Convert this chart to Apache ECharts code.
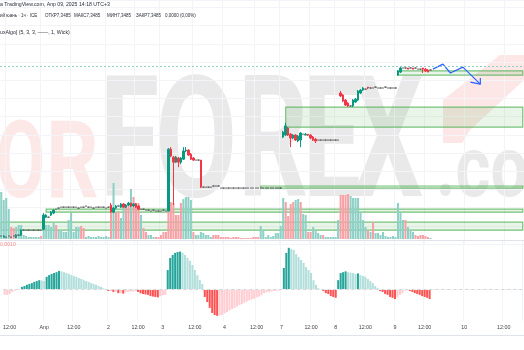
<!DOCTYPE html>
<html lang="ru">
<head>
<meta charset="UTF-8">
<title>USDCNY 1ч</title>
<script src="https://cdn.jsdelivr.net/npm/echarts@6/dist/echarts.min.js"></script>
<style>
html, body { margin: 0; padding: 0; background: #fff; }
#chart { width: 524px; height: 350px; }
</style>
</head>
<body>
<div id="chart"></div>
<script>
// hourly slots of the time scale, labels only on some of them
var slotCount = 210;
var tickSlots  = [2, 16, 28, 42, 54, 64, 77, 89, 102, 112, 124, 134, 146, 158, 170, 186, 202];
var tickLabels = ['12:00', 'Апр', '12:00', '2', '12:00', '3', '12:00', '4', '12:00', '7', '12:00', '8', '12:00', '9', '12:00', '10', '12:00'];

// one number = flat bar (O=H=L=C), otherwise [open, close, low, high]
var candles = [
    7.2755, [7.2750, 7.2755, 7.2750, 7.2759], 7.2750, 7.2755, 7.2750, 7.2755, [7.2750, 7.2759, 7.2746, 7.2763], 7.2759, [7.2759, 7.2781, 7.2755, 7.2785], 7.2781,
    7.2781, 7.2781, 7.2781, 7.2781, 7.2781, 7.2781, 7.2781, [7.2785, 7.2847, 7.2781, 7.2856], [7.2838, 7.2847, 7.2834, 7.2851], 7.2838,
    [7.2847, 7.2860, 7.2843, 7.2865], [7.2856, 7.2869, 7.2851, 7.2873], 7.2873, 7.2878, 7.2882, 7.2882, 7.2882, 7.2882, 7.2882, 7.2882,
    7.2882, 7.2878, 7.2882, 7.2882, 7.2887, 7.2882, 7.2882, 7.2878, 7.2882, 7.2882,
    7.2882, 7.2882, 7.2878, 7.2882, [7.2891, 7.2860, 7.2860, 7.2900], [7.2860, 7.2878, 7.2856, 7.2882], [7.2878, 7.2887, 7.2873, 7.2891], 7.2887, [7.2882, 7.2896, 7.2878, 7.2900], [7.2896, 7.2882, 7.2878, 7.2900],
    [7.2882, 7.2891, 7.2878, 7.2896], [7.2891, 7.2900, 7.2887, 7.2905], [7.2900, 7.2887, 7.2882, 7.2900], [7.2887, 7.2896, 7.2882, 7.2900], [7.2896, 7.2882, 7.2878, 7.2900], [7.2887, 7.2873, 7.2869, 7.2891], 7.2873, 7.2873, 7.2869, 7.2869,
    7.2865, 7.2869, 7.2865, 7.2865, 7.2865, 7.2869, 7.2865, [7.2865, 7.3137, 7.2865, 7.3142], [7.3137, 7.3107, 7.3102, 7.3146], [7.3102, 7.3080, 7.2891, 7.3107],
    [7.3080, 7.3102, 7.3076, 7.3107], [7.3098, 7.3080, 7.3058, 7.3102], [7.3080, 7.3098, 7.3071, 7.3102], [7.3093, 7.3129, 7.3089, 7.3146], [7.3129, 7.3133, 7.3124, 7.3146], [7.3133, 7.3111, 7.3107, 7.3137], [7.3115, 7.3093, 7.3089, 7.3120], [7.3098, 7.3089, 7.3085, 7.3102], 7.3089, 7.3089,
    [7.3089, 7.2970, 7.2966, 7.3089], 7.2970, 7.2970, 7.2970, 7.2970, 7.2975, 7.2975, 7.2975, 7.2966, 7.2966,
    7.2966, 7.2966, 7.2966, 7.2966, 7.2966, 7.2966, 7.2966, 7.2966, 7.2966, 7.2966,
    7.2966, 7.2966, 7.2966, 7.2966, 7.2966, 7.2966, 7.2966, 7.2966, 7.2966, 7.2966,
    7.2966, 7.2966, 7.2966, [7.3190, 7.3212, 7.3186, 7.3217], [7.3199, 7.3239, 7.3195, 7.3252], [7.3230, 7.3199, 7.3195, 7.3234], [7.3203, 7.3186, 7.3146, 7.3208], [7.3186, 7.3199, 7.3181, 7.3203], [7.3199, 7.3177, 7.3173, 7.3203], [7.3173, 7.3195, 7.3168, 7.3199],
    [7.3177, 7.3208, 7.3146, 7.3212], 7.3203, [7.3199, 7.3203, 7.3199, 7.3208], [7.3203, 7.3199, 7.3195, 7.3203], [7.3199, 7.3186, 7.3181, 7.3203], [7.3190, 7.3177, 7.3173, 7.3195], [7.3181, 7.3173, 7.3164, 7.3186], 7.3177, 7.3177, 7.3177,
    7.3177, 7.3177, 7.3177, 7.3177, 7.3177, 7.3177, [7.3384, 7.3371, 7.3366, 7.3393], [7.3375, 7.3349, 7.3344, 7.3379], [7.3353, 7.3331, 7.3327, 7.3357], [7.3340, 7.3327, 7.3322, 7.3344],
    7.3327, [7.3327, 7.3353, 7.3322, 7.3357], [7.3344, 7.3357, 7.3340, 7.3362], [7.3353, 7.3393, 7.3349, 7.3397], [7.3384, 7.3397, 7.3379, 7.3401], [7.3397, 7.3406, 7.3393, 7.3410], 7.3401, [7.3410, 7.3406, 7.3401, 7.3410], 7.3406, 7.3406,
    7.3410, 7.3406, 7.3406, 7.3406, 7.3410, 7.3406, 7.3406, 7.3406, 7.3406, [7.3463, 7.3481, 7.3459, 7.3485],
    [7.3476, 7.3494, 7.3472, 7.3498], 7.3494, 7.3494, [7.3494, 7.3489, 7.3489, 7.3494], 7.3494, [7.3494, 7.3489, 7.3489, 7.3494], 7.3494, 7.3489, 7.3489, [7.3494, 7.3489, 7.3472, 7.3494],
    [7.3489, 7.3481, 7.3476, 7.3494], [7.3485, 7.3476, 7.3476, 7.3489], 7.3485
];

var volume = [
    47, 39, 41, 30, 12, 11, 12, 14, 14, 4,
    3, 2, 2, 2, 2, 2, 3, 24, 14, 14,
    12, 17, 14, 9, 9, 7, 7, 19, 26, 7,
    12, 12, 13, 11, 2, 3, 2, 2, 2, 3,
    2, 2, 3, 2, 27, 56, 27, 27, 21, 34,
    34, 34, 50, 42, 36, 36, 24, 11, 7, 4,
    4, 2, 2, 2, 4, 7, 7, 37, 37, 36,
    24, 24, 36, 40, 42, 42, 39, 7, 4, 4,
    7, 6, 4, 4, 2, 4, 4, 4, 2, 2,
    2, 2, 1, 2, 2, 2, 1, 1, 1, 1,
    1, 2, 2, 2, 13, 9, 2, 4, 2, 3,
    6, 6, 13, 41, 37, 23, 35, 37, 39, 40,
    37, 25, 24, 7, 7, 12, 9, 6, 4, 4,
    2, 2, 2, 2, 2, 19, 44, 44, 44, 45,
    43, 41, 41, 41, 27, 19, 12, 9, 7, 17,
    6, 6, 4, 7, 3, 2, 2, 3, 2, 36,
    27, 19, 19, 12, 9, 7, 4, 3, 4, 4,
    3, 2, 1
];
// 1 = up (teal), 0 = down (pink)
var volumeUp = [
    1, 1, 1, 1, 0, 0, 1, 1, 1, 1,
    1, 1, 1, 1, 1, 1, 0, 1, 1, 1,
    1, 1, 0, 1, 1, 1, 1, 1, 1, 1,
    1, 1, 0, 0, 1, 1, 1, 1, 1, 1,
    1, 1, 1, 1, 0, 1, 0, 0, 1, 1,
    0, 0, 1, 0, 0, 0, 1, 0, 0, 1,
    1, 1, 0, 0, 0, 0, 0, 0, 0, 0,
    0, 0, 0, 1, 1, 1, 1, 0, 1, 1,
    1, 1, 1, 1, 1, 0, 0, 0, 0, 0,
    0, 0, 0, 0, 0, 0, 0, 0, 0, 0,
    0, 0, 0, 0, 1, 1, 1, 1, 1, 1,
    1, 1, 1, 1, 0, 0, 0, 0, 1, 1,
    0, 1, 1, 0, 0, 1, 1, 1, 1, 0,
    1, 1, 1, 1, 1, 1, 0, 0, 0, 0,
    1, 1, 1, 1, 1, 1, 1, 0, 1, 0,
    1, 1, 1, 1, 1, 1, 1, 1, 1, 1,
    1, 1, 0, 1, 1, 1, 0, 0, 0, 0,
    0, 0, 1
];

// oscillator histogram (lower pane)
var osc = [
    -0.00014, -0.00014, -0.00012, -0.00007, -0.00005, -0.00002, -0.00002,
    0.00005, 0.00007, 0.0001, 0.00012, 0.00014, 0.00017, 0.00019, 0.00021,
    0.0002, 0.00019,
    0.00029, 0.00033, 0.00036, 0.00038, 0.0004, 0.00043,
    0.00042, 0.0004, 0.00038, 0.00036, 0.00033, 0.00031, 0.00029, 0.00026, 0.00024, 0.00021, 0.00019, 0.00017, 0.00014, 0.00012, 0.0001, 0.00007, 0.00005, 0.00002,
    -0.00002, -0.00005, -0.00005, -0.00007, -0.00007, -0.0001, -0.0001, -0.00011,
    -0.00008, -0.00007, -0.00006, -0.00006, -0.00005,
    -0.00007, -0.0001, -0.00012, -0.00013, -0.00014, -0.00017, -0.00018, -0.00019, -0.0002,
    -0.00017, -0.00015, -0.00014,
    0.00045, 0.00074, 0.00081, 0.00086, 0.00088, 0.00089,
    0.00086, 0.00081, 0.00074, 0.00067, 0.00057, 0.00045, 0.00033, 0.00021, 0.00012,
    -0.00019, -0.00031, -0.00045, -0.00057, -0.00062, -0.00064,
    -0.00063, -0.00062, -0.00058, -0.00055, -0.00051, -0.00048, -0.00045, -0.00042, -0.00038, -0.00036, -0.00033, -0.0003, -0.00027, -0.00025, -0.00023, -0.0002, -0.00018, -0.00015,
    -0.0001, -0.00008, -0.00007, -0.00006, -0.00005, -0.00004, -0.00004, -0.00002,
    0.0005, 0.00086, 0.00098,
    0.00095, 0.00093, 0.00083, 0.00076, 0.00069, 0.00062, 0.00052, 0.00045, 0.00038, 0.00021, 0.0001, 0.00002,
    -0.00002, -0.00005, -0.0001, -0.00012, -0.00017, -0.00019, -0.00021,
    0.00021, 0.00038, 0.0004, 0.00042,
    0.0004, 0.00039, 0.00038, 0.00036,
    0.00037,
    0.00033, 0.00031, 0.00029, 0.00024, 0.00019, 0.00014, 0.00007, 0.00002,
    -0.00005, -0.00007, -0.00012, -0.00014, -0.00019, -0.00021, -0.00024,
    -0.00019, -0.00014, -0.0001, -0.00004,
    -0.00002, -0.00005, -0.00007, -0.0001, -0.00012, -0.00014, -0.00017, -0.00019, -0.00021, -0.00024
];

// order-block zones: [first slot, top price, bottom price]
var zones = [
    [159, 7.3481, 7.3463],
    [114, 7.3322, 7.3234],
    [104, 7.2975, 7.2966],
    [18, 7.2873, 7.2860],
    [0, 7.2816, 7.2781]
];
var lastPrice = 7.3485;

// hand-drawn forecast arrow: [slot, price]
var arrowPath = [[173, 7.3489], [177, 7.3511], [180, 7.3472], [185, 7.3498], [192, 7.3423]];
var arrowHead = [[188, 7.3432], [192, 7.3423], [192, 7.3450]];

var categories = [];
for (var i = 0; i < slotCount; i++) {
    var k = tickSlots.indexOf(i);
    categories.push(k >= 0 ? tickLabels[k] : '');
}

var flatStyle = {color: '#555', color0: '#555', borderColor: '#555', borderColor0: '#555'};
var candleData = candles.map(function (c) {
    if (typeof c === 'number') {
        return {value: [c, c, c, c], itemStyle: flatStyle};
    }
    return c;
});

var volumeData = volume.map(function (v, i) {
    return {value: v, itemStyle: {color: volumeUp[i] ? '#8ed0c6' : '#f7a1a6'}};
});

var oscData = osc.map(function (v, i) {
    var prev = i > 0 ? osc[i - 1] : v;
    var col;
    if (v >= 0) {
        col = v > prev ? '#26a69a' : '#b2dfdb';
    } else {
        col = v < prev ? '#ff5252' : '#ffcdd2';
    }
    return {value: v, itemStyle: {color: col}};
});

var zoneAreas = zones.map(function (z) {
    return [{xAxis: z[0], yAxis: z[1]}, {xAxis: slotCount - 1, yAxis: z[2]}];
});

function isTick(idx) {
    return tickSlots.indexOf(idx) >= 0;
}

function makeX(gridIndex, withLabels) {
    return {
        type: 'category',
        gridIndex: gridIndex,
        data: categories,
        boundaryGap: true,
        axisLine: {show: false},
        axisTick: {show: false},
        axisLabel: {
            show: withLabels,
            interval: 0,
            margin: 4,
            color: '#3c3f48',
            fontSize: 5.3,
            fontFamily: 'Liberation Sans'
        },
        splitLine: {
            show: gridIndex !== 1,
            interval: function (idx) { return isTick(idx); },
            lineStyle: {color: '#f3f4f7', width: 1}
        }
    };
}

var chart = echarts.init(document.getElementById('chart'), null, {renderer: 'canvas'});

var hdrFont = '5.2px "Liberation Sans"';
var ohlcFont = '4.5px "Liberation Sans"';
var wmFont = 'bold 168px Roboto';
var wmGrey = '#e9e9e9';
var wmPink = '#fde8e8';

var option = {
    animation: false,
    backgroundColor: '#ffffff',
    grid: [
        {left: 0, right: 0, top: 0, height: 244},
        {left: 0, right: 0, top: 183, height: 56},
        {left: 0, right: 0, top: 241, height: 80}
    ],
    xAxis: [makeX(0, false), makeX(1, false), makeX(2, true)],
    yAxis: [
        {
            gridIndex: 0, min: 7.272, max: 7.3793, interval: 0.008,
            axisLine: {show: false}, axisTick: {show: false}, axisLabel: {show: false},
            splitLine: {lineStyle: {color: '#f3f4f7'}}
        },
        {gridIndex: 1, min: 0, max: 56, show: false},
        {gridIndex: 2, min: -0.000762, max: 0.001142, show: false}
    ],
    graphic: [
        // watermark
        {type: 'text', x: -4, y: 170, scaleX: 0.66, z: -10, style: {text: 'O', font: 'bold 108px Roboto', fill: wmPink, verticalAlign: 'middle'}},
        {type: 'text', x: 46, y: 170, scaleX: 0.76, z: -10, style: {text: 'R', font: 'bold 108px Roboto', fill: wmPink, verticalAlign: 'middle'}},
        {type: 'text', x: 100, y: 154, scaleX: 0.64, z: -10, style: {text: 'F', font: wmFont, fill: wmGrey, verticalAlign: 'middle'}},
        {type: 'text', x: 155, y: 154, scaleX: 0.71, z: -10, style: {text: 'O', font: wmFont, fill: wmGrey, verticalAlign: 'middle'}},
        {type: 'text', x: 238, y: 154, scaleX: 0.65, z: -10, style: {text: 'R', font: wmFont, fill: wmGrey, verticalAlign: 'middle'}},
        {type: 'text', x: 303, y: 154, scaleX: 0.61, z: -10, style: {text: 'E', font: wmFont, fill: wmGrey, verticalAlign: 'middle'}},
        {type: 'text', x: 352, y: 154, scaleX: 0.67, z: -10, style: {text: 'X', font: wmFont, fill: wmGrey, verticalAlign: 'middle'}},
        {type: 'text', x: 436, y: 174, scaleX: 0.78, z: -10, style: {text: '.com', font: 'bold 86px Roboto', fill: wmGrey, verticalAlign: 'middle'}},
        {type: 'polygon', z: -10, shape: {points: [[443, 100], [462, 85], [500, 55], [524, 55], [524, 80], [470, 130], [462, 143], [443, 143]]}, style: {fill: '#fce6e6'}},
        // pane separators
        {type: 'line', z: 5, shape: {x1: 0, y1: 240.5, x2: 524, y2: 240.5}, style: {stroke: '#e0e3eb', lineWidth: 1}},
        {type: 'line', z: 5, shape: {x1: 0, y1: 335.5, x2: 524, y2: 335.5}, style: {stroke: '#e0e3eb', lineWidth: 1}},
        // legend texts
        {type: 'text', x: 0, y: 5, z: 10, style: {text: 'а TradingView.com, Апр 09, 2025 14:18 UTC+3', font: hdrFont, fill: '#2a2e39', verticalAlign: 'middle'}},
        {type: 'text', x: 0, y: 16, z: 10, style: {text: 'ий юань · 1ч · ICE', font: ohlcFont, fill: '#2a2e39', verticalAlign: 'middle'}},
        {type: 'text', x: 45, y: 16, z: 10, style: {text: 'ОТКР7,3485', font: ohlcFont, fill: '#2a2e39', verticalAlign: 'middle'}},
        {type: 'text', x: 74, y: 16, z: 10, style: {text: 'МАКС7,3485', font: ohlcFont, fill: '#2a2e39', verticalAlign: 'middle'}},
        {type: 'text', x: 107, y: 16, z: 10, style: {text: 'МИН7,3485', font: ohlcFont, fill: '#2a2e39', verticalAlign: 'middle'}},
        {type: 'text', x: 136, y: 16, z: 10, style: {text: 'ЗАКР7,3485', font: ohlcFont, fill: '#2a2e39', verticalAlign: 'middle'}},
        {type: 'text', x: 165, y: 16, z: 10, style: {text: '0,0000 (0,00%)', font: ohlcFont, fill: '#2a2e39', verticalAlign: 'middle'}},
        {type: 'text', x: 0, y: 33, z: 10, style: {text: 'uxAlgo] (5, 3, 3, ——, 1, Wick)', font: hdrFont, fill: '#2a2e39', verticalAlign: 'middle'}},
        {type: 'text', x: 0, y: 245, z: 10, style: {text: '0,0010', font: hdrFont, fill: '#f28b8b', verticalAlign: 'middle'}}
    ],
    series: [
        {
            name: 'Объём',
            type: 'bar',
            xAxisIndex: 1,
            yAxisIndex: 1,
            data: volumeData,
            barCategoryGap: '18%',
            z: 1,
            silent: true
        },
        {
            name: 'zones',
            type: 'line',
            xAxisIndex: 0,
            yAxisIndex: 0,
            data: [],
            z: 2,
            silent: true,
            markArea: {
                silent: true,
                itemStyle: {color: 'rgba(76,175,80,0.13)', borderColor: 'rgba(76,175,80,0.75)', borderWidth: 1.2},
                data: zoneAreas
            },
            markLine: {
                silent: true,
                symbol: 'none',
                label: {show: false},
                lineStyle: {color: '#8fd0c6', type: [2, 2], width: 1},
                data: [{yAxis: lastPrice}]
            }
        },
        {
            name: 'USDCNY',
            type: 'candlestick',
            xAxisIndex: 0,
            yAxisIndex: 0,
            data: candleData,
            barWidth: '78%',
            z: 3,
            silent: true,
            itemStyle: {
                color: '#089981',
                color0: '#f23645',
                borderColor: '#089981',
                borderColor0: '#f23645',
                borderWidth: 1
            }
        },
        {
            name: 'arrow',
            type: 'line',
            xAxisIndex: 0,
            yAxisIndex: 0,
            data: arrowPath,
            symbol: 'none',
            z: 4,
            lineStyle: {color: '#2962ff', width: 1.2}
        },
        {
            name: 'arrowHead',
            type: 'line',
            xAxisIndex: 0,
            yAxisIndex: 0,
            data: arrowHead,
            symbol: 'none',
            z: 4,
            lineStyle: {color: '#2962ff', width: 1.2}
        },
        {
            name: 'oscGrid',
            type: 'line',
            xAxisIndex: 2,
            yAxisIndex: 2,
            data: [],
            z: 0,
            silent: true,
            markLine: {
                silent: true,
                symbol: 'none',
                label: {show: false},
                lineStyle: {color: '#f3f4f7', type: 'solid', width: 1},
                data: [
                    {yAxis: 0.001},
                    {yAxis: 0.0005},
                    {yAxis: -0.0005},
                    {yAxis: 0, lineStyle: {color: '#d6d6d6', type: [3, 3], width: 1}}
                ]
            }
        },
        {
            name: 'Осциллятор',
            type: 'bar',
            xAxisIndex: 2,
            yAxisIndex: 2,
            data: oscData,
            barCategoryGap: '18%',
            z: 2,
            silent: true
        }
    ]
};

chart.setOption(option);
</script>
</body>
</html>
